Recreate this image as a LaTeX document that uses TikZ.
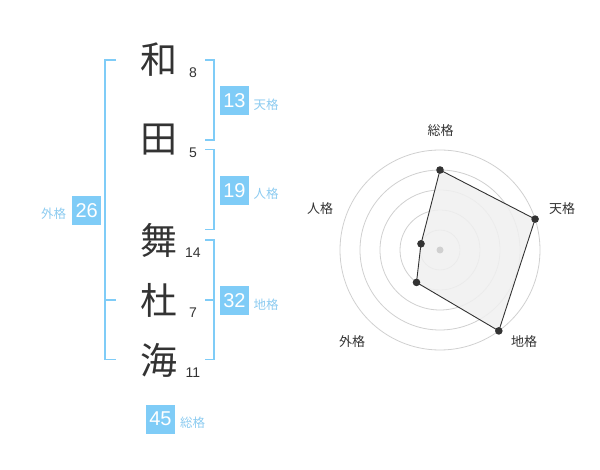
\documentclass[tikz,border=0pt]{standalone}
\usepackage{fontspec}
\setmainfont{Liberation Sans}
\newfontfamily\jp{Noto Sans CJK JP}
\definecolor{skyb}{HTML}{7FCCF7}
\definecolor{skyt}{HTML}{8CCBF0}
\definecolor{ink}{HTML}{333333}
\definecolor{ring}{HTML}{D0D0D0}
\definecolor{area}{HTML}{F0F0F0}
\tikzset{
  kanji/.style={font=\jp\fontsize{37}{37}\selectfont, text=ink, inner sep=0pt},
  strokes/.style={font=\fontsize{14}{14}\selectfont, text=ink, inner sep=0pt},
  numbox/.style={fill=skyb, text=white, minimum width=29pt, minimum height=29pt, inner sep=0pt, font=\fontsize{20}{20}\selectfont},
  kaku/.style={font=\jp\fontsize{12.5}{12.5}\selectfont, text=skyt, inner sep=0pt},
  brk/.style={draw=skyb, line width=1.8pt},
  radarlbl/.style={font=\jp\fontsize{13}{13}\selectfont, text=ink, inner sep=0pt},
  ringline/.style={draw=ring, line width=0.8pt},
  vdot/.style={fill=ink, draw=none},
}
\begin{document}
\begin{tikzpicture}[x=1pt,y=-1pt]
\useasboundingbox (0,0) rectangle (600,470);
% kanji
\node[kanji] (k1) at (159,60) {和};
\node[kanji] (k2) at (159,140) {田};
\node[kanji] (k3) at (159,240) {舞};
\node[kanji] (k4) at (159,300) {杜};
\node[kanji] (k5) at (159,360) {海};
% stroke counts
\node[strokes] (s1) at (193,72.7) {8};
\node[strokes] (s2) at (193,152.7) {5};
\node[strokes] (s3) at (193,252.7) {14};
\node[strokes] (s4) at (193,312.7) {7};
\node[strokes] (s5) at (193,372.7) {11};
% brackets
\draw[brk] (116,60) -- (105,60) -- (105,359.5) -- (116,359.5);
\draw[brk] (105,300) -- (116,300);
\draw[brk] (205,60) -- (214,60) -- (214,140) -- (205,140);
\draw[brk] (205,149.5) -- (214,149.5) -- (214,229.5) -- (205,229.5);
\draw[brk] (205,240) -- (214,240) -- (214,359.5) -- (205,359.5);
\draw[brk] (214,300) -- (205,300);
% boxes and labels
\node[numbox] (b13) at (234.5,100.5) {13};
\node[kaku] (l13) at (266,104.5) {天格};
\node[numbox] (b19) at (234.5,190.5) {19};
\node[kaku] (l19) at (266,194) {人格};
\node[numbox] (b32) at (234.5,300.5) {32};
\node[kaku] (l32) at (266,304.5) {地格};
\node[numbox] (b26) at (86.7,210.5) {26};
\node[kaku] (l26) at (53.5,213.5) {外格};
\node[numbox] (b45) at (160.5,419) {45};
\node[kaku] (l45) at (192.5,423) {総格};
% radar
\coordinate (c) at (440,250);
\foreach \r in {20,40,60,80,100} \draw[ringline] (c) circle[radius=\r];
\coordinate (vS) at (440,170);
\coordinate (vT) at (535.1,219.1);
\coordinate (vC) at (498.8,330.9);
\coordinate (vG) at (416.5,282.4);
\coordinate (vJ) at (421.0,243.8);
\fill[area, opacity=0.85] (vS) -- (vT) -- (vC) -- (vG) -- (vJ) -- cycle;
\draw[ink, line width=0.9pt, line join=round] (vS) -- (vT) -- (vC) -- (vG) -- (vJ) -- cycle;
\fill[ring] (c) circle[radius=3.5];
\foreach \v in {vS,vT,vC,vG,vJ} \fill[vdot] (\v) circle[radius=3.8];
\node[radarlbl] (rS) at (440.5,130.5) {総格};
\node[radarlbl] (rT) at (562,208.5) {天格};
\node[radarlbl] (rC) at (524,342) {地格};
\node[radarlbl] (rG) at (352,342) {外格};
\node[radarlbl] (rJ) at (320,208.5) {人格};
\end{tikzpicture}
\end{document}
